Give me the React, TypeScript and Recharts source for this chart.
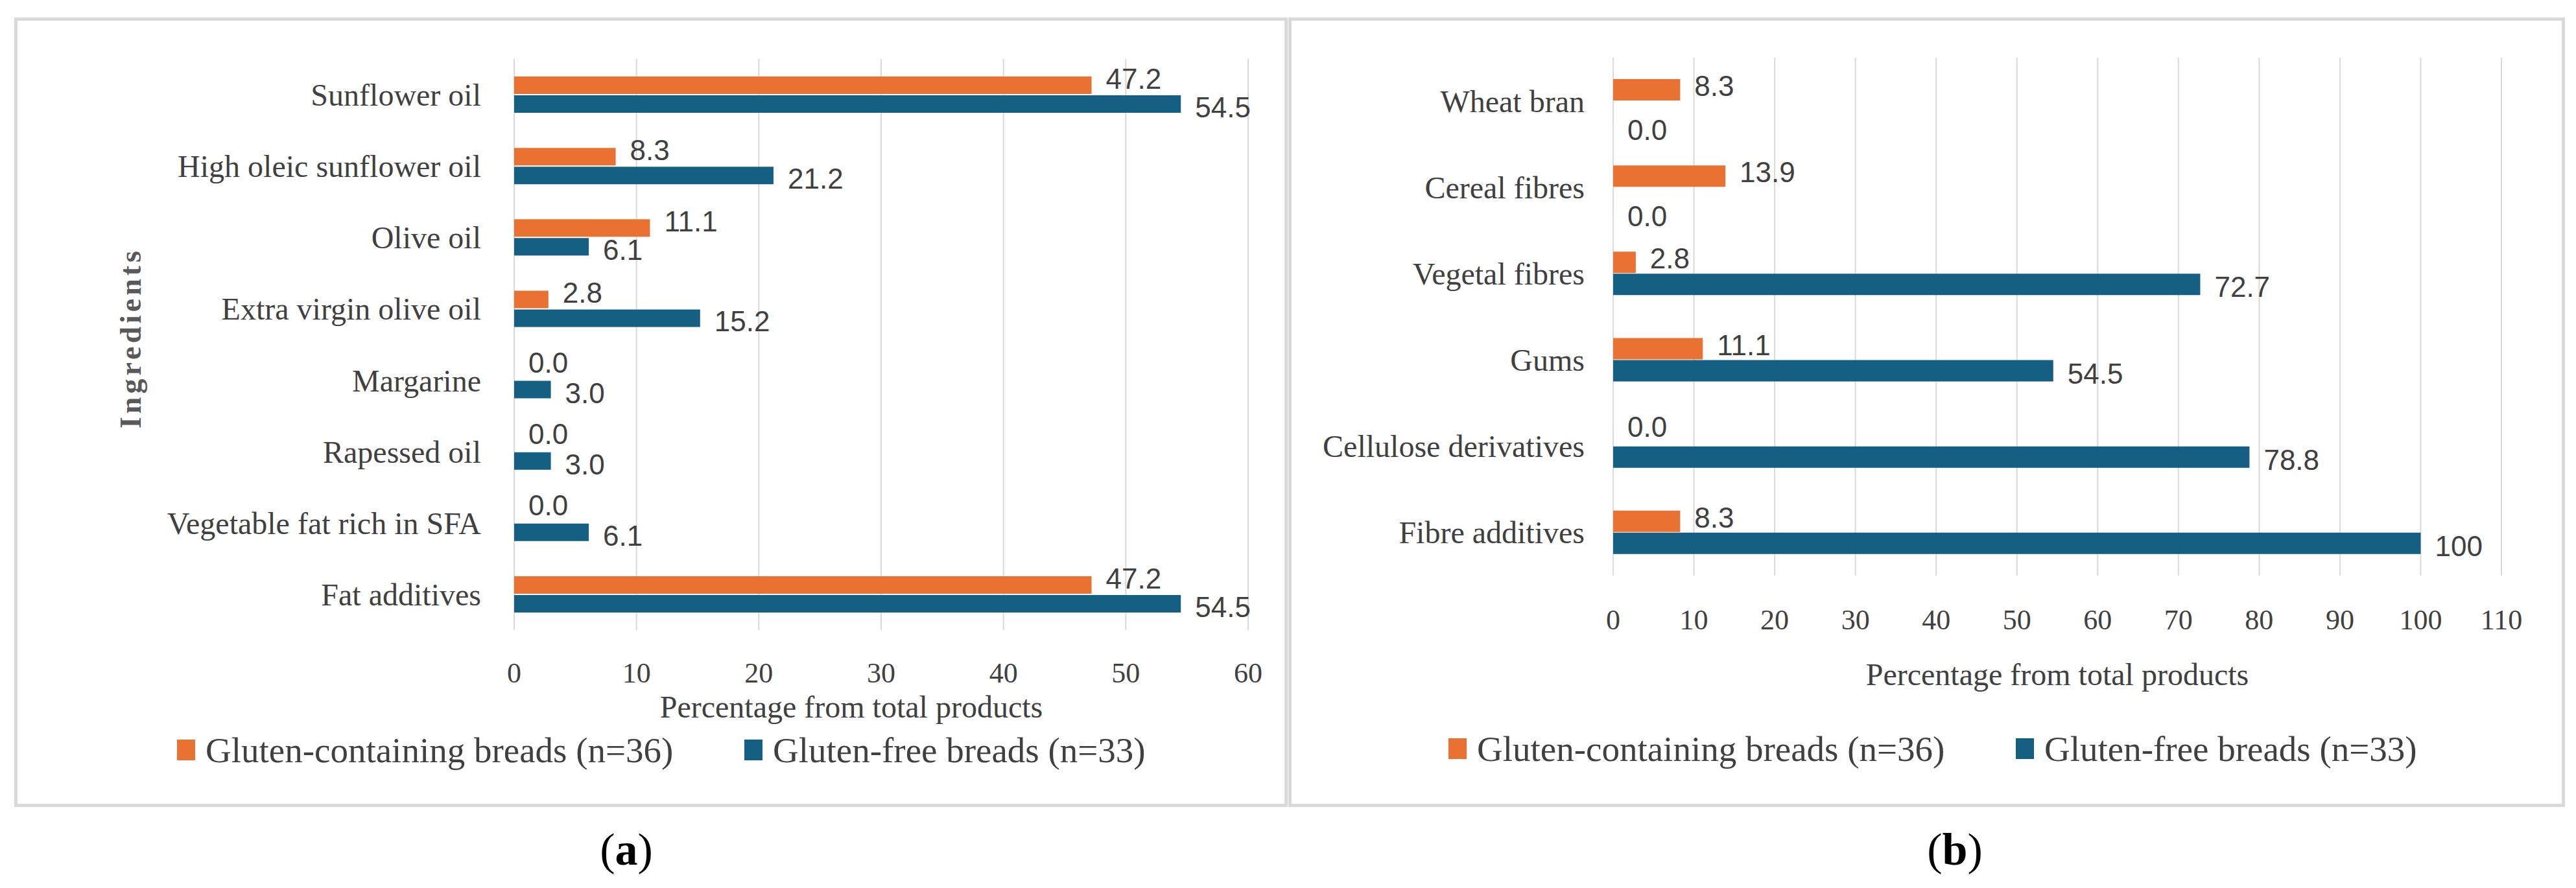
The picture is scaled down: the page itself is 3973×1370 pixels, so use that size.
import { BarChart, Bar, XAxis, YAxis, CartesianGrid, LabelList } from "recharts";

// (a) fat ingredients
const oilCategories = [
  "Sunflower oil",
  "High oleic sunflower oil",
  "Olive oil",
  "Extra virgin olive oil",
  "Margarine",
  "Rapessed oil",
  "Vegetable fat rich in SFA",
  "Fat additives",
];
const oilGlutenContaining = [47.2, 8.3, 11.1, 2.8, 0.0, 0.0, 0.0, 47.2];
const oilGlutenFree = [54.5, 21.2, 6.1, 15.2, 3.0, 3.0, 6.1, 54.5];
const oilTicks = [0, 10, 20, 30, 40, 50, 60];

// (b) fibre ingredients
const fibreCategories = [
  "Wheat bran",
  "Cereal fibres",
  "Vegetal fibres",
  "Gums",
  "Cellulose derivatives",
  "Fibre additives",
];
const fibreGlutenContaining = [8.3, 13.9, 2.8, 11.1, 0.0, 8.3];
const fibreGlutenFree = [0.0, 0.0, 72.7, 54.5, 78.8, 100];
const fibreTicks = [0, 10, 20, 30, 40, 50, 60, 70, 80, 90, 100, 110];

const seriesNames = ["Gluten-containing breads (n=36)", "Gluten-free breads (n=33)"];
const seriesColors = ["#E97132", "#156082"];

const axisTitle = "Percentage from total products";
const yTitle = "Ingredients";

const SERIF = "'Liberation Serif', 'Times New Roman', serif";
const SANS = "'Liberation Sans', Arial, sans-serif";
const TEXT = "#404040";
const CHART_H = 1250;
const XAXIS_H = 100;

const fmt = (v: any) => (Number(v) >= 100 ? String(v) : Number(v).toFixed(1));

// value label drawn to the right of the bar end; Excel nudged them a little
// up (orange) or down (blue), zero labels a bit more
const makeValueLabel = (dy: number, zeroDy: number) => (props: any) => {
  const vb = props.viewBox ?? props;
  const x = Number(vb.x ?? props.x);
  const y = Number(vb.y ?? props.y);
  const w = Number(vb.width ?? props.width ?? 0);
  const h = Number(vb.height ?? props.height ?? 0);
  const v = Number(props.value);
  const isZero = v === 0;
  return (
    <text
      x={x + (isZero ? 0 : w) + 22}
      y={y + h / 2 + (isZero ? zeroDy : dy)}
      dominantBaseline="central"
      fill={TEXT}
      fontSize={44}
      fontFamily={SANS}
    >
      {fmt(v)}
    </text>
  );
};

interface PanelProps {
  pageLeft: number;
  width: number;
  categories: string[];
  gc: number[];
  gf: number[];
  ticks: number[];
  plot: { left: number; right: number; top: number; bottom: number };
  barSize: number;
  barGap: number;
  catMargin: number;
  tickMargin: number;
  titleDx: number;
  titleBaseline: number;
  labelShift: { gc: number; gcZero: number; gf: number; gfZero: number };
  showYTitle?: boolean;
}

function Panel({
  pageLeft,
  width,
  categories,
  gc,
  gf,
  ticks,
  plot,
  barSize,
  barGap,
  catMargin,
  tickMargin,
  titleDx,
  titleBaseline,
  labelShift,
  showYTitle,
}: PanelProps) {
  const rows = categories.map((name, i) => ({ name, gc: gc[i], gf: gf[i] }));

  const renderXTitle = (props: any) => {
    const vb = props.viewBox ?? { x: plot.left, y: plot.bottom, width: plot.right - plot.left };
    return (
      <text
        x={vb.x + vb.width / 2 + titleDx}
        y={vb.y + titleBaseline}
        textAnchor="middle"
        fill={TEXT}
        fontSize={48}
        fontFamily={SERIF}
      >
        {axisTitle}
      </text>
    );
  };

  const renderYTitle = (props: any) => {
    const vb = props.viewBox ?? { x: 0, y: plot.top, height: plot.bottom - plot.top };
    const x = vb.x + 201;
    const y = vb.y + vb.height / 2 - 10;
    return (
      <text
        x={x}
        y={y}
        transform={`rotate(-90, ${x}, ${y})`}
        textAnchor="middle"
        dominantBaseline="central"
        fill="#595959"
        fontSize={46}
        fontWeight="bold"
        letterSpacing={5}
        fontFamily={SERIF}
      >
        {yTitle}
      </text>
    );
  };

  return (
    <div style={{ position: "absolute", left: pageLeft, top: 0 }}>
      <BarChart
        width={width}
        height={CHART_H}
        data={rows}
        layout="vertical"
        barGap={barGap}
        margin={{
          top: plot.top,
          right: width - plot.right,
          bottom: CHART_H - plot.bottom - XAXIS_H,
          left: 0,
        }}
      >
        <CartesianGrid horizontal={false} stroke="#d9d9d9" strokeWidth={2} />
        <XAxis
          type="number"
          domain={[0, ticks[ticks.length - 1]]}
          ticks={ticks}
          interval={0}
          height={XAXIS_H}
          axisLine={false}
          tickLine={false}
          tickSize={0}
          tickMargin={tickMargin}
          tick={{ fontSize: 44, fill: TEXT, fontFamily: SERIF }}
          label={renderXTitle}
        />
        <YAxis
          type="category"
          dataKey="name"
          width={plot.left}
          interval={0}
          axisLine={false}
          tickLine={false}
          tickSize={0}
          tickMargin={catMargin}
          tick={{ fontSize: 48, fill: TEXT, fontFamily: SERIF }}
          label={showYTitle ? renderYTitle : undefined}
        />
        <Bar
          dataKey="gc"
          name={seriesNames[0]}
          fill={seriesColors[0]}
          barSize={barSize}
          minPointSize={0.01}
          isAnimationActive={false}
        >
          <LabelList dataKey="gc" content={makeValueLabel(labelShift.gc, labelShift.gcZero)} />
        </Bar>
        <Bar
          dataKey="gf"
          name={seriesNames[1]}
          fill={seriesColors[1]}
          barSize={barSize}
          minPointSize={0.01}
          isAnimationActive={false}
        >
          <LabelList dataKey="gf" content={makeValueLabel(labelShift.gf, labelShift.gfZero)} />
        </Bar>
      </BarChart>
    </div>
  );
}

function LegendRow({ top, lefts }: { top: number; lefts: number[] }) {
  return (
    <>
      {seriesNames.map((name, i) => (
        <div
          key={name}
          style={{
            position: "absolute",
            left: lefts[i],
            top: top - 35,
            height: 70,
            display: "flex",
            alignItems: "center",
            whiteSpace: "nowrap",
          }}
        >
          <span style={{ width: 28, height: 32, background: seriesColors[i], marginRight: 16 }} />
          <span style={{ fontFamily: SERIF, fontSize: 55, color: TEXT }}>{name}</span>
        </div>
      ))}
    </>
  );
}

function Caption({ cx, letter }: { cx: number; letter: string }) {
  return (
    <div
      style={{
        position: "absolute",
        left: cx,
        top: 1311,
        transform: "translate(-50%, -50%)",
        fontFamily: SERIF,
        fontSize: 70,
        color: "#000",
        lineHeight: 1,
      }}
    >
      (<b>{letter}</b>)
    </div>
  );
}

export default function App() {
  return (
    <div
      style={{
        position: "absolute",
        left: 0,
        top: 0,
        width: 3973,
        height: 1370,
        background: "#fff",
        overflow: "hidden",
        fontFamily: SERIF,
      }}
    >
      <div
        style={{
          position: "absolute",
          left: 22,
          top: 27,
          width: 1964,
          height: 1218,
          border: "5px solid #d9d9d9",
          boxSizing: "border-box",
        }}
      />
      <div
        style={{
          position: "absolute",
          left: 1987,
          top: 27,
          width: 1969,
          height: 1218,
          border: "5px solid #d9d9d9",
          boxSizing: "border-box",
        }}
      />

      <Panel
        pageLeft={0}
        width={1990}
        categories={oilCategories}
        gc={oilGlutenContaining}
        gf={oilGlutenFree}
        ticks={oilTicks}
        plot={{ left: 793, right: 1925, top: 91, bottom: 972 }}
        barSize={27}
        barGap={2}
        catMargin={51}
        tickMargin={50}
        titleDx={-46}
        titleBaseline={135}
        labelShift={{ gc: -10, gcZero: -13, gf: 5, gfZero: 5 }}
        showYTitle
      />
      <Panel
        pageLeft={1980}
        width={1993}
        categories={fibreCategories}
        gc={fibreGlutenContaining}
        gf={fibreGlutenFree}
        ticks={fibreTicks}
        plot={{ left: 508, right: 1878, top: 89, bottom: 888 }}
        barSize={33}
        barGap={1}
        catMargin={44}
        tickMargin={52}
        titleDx={0}
        titleBaseline={169}
        labelShift={{ gc: -6, gcZero: -13, gf: 4, gfZero: 28 }}
      />

      <LegendRow top={1157} lefts={[273, 1148]} />
      <LegendRow top={1155} lefts={[2234, 3109]} />

      <Caption cx={966} letter="a" />
      <Caption cx={3015} letter="b" />
    </div>
  );
}
